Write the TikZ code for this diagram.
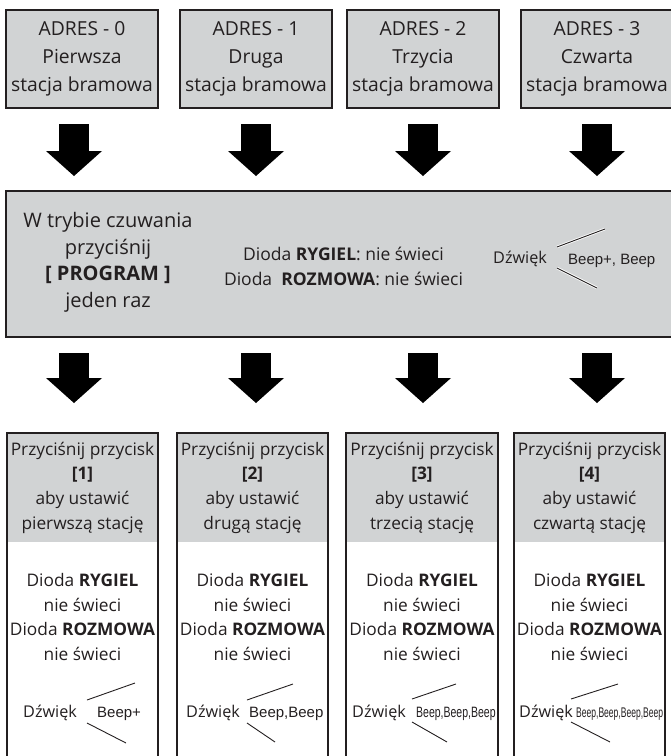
\documentclass[tikz,border=0pt]{standalone}
\usepackage{fontspec}
\setmainfont{Open Sans}
\newfontfamily\beepfont{Liberation Sans}
\usetikzlibrary{arrows.meta,positioning}

\definecolor{boxgray}{RGB}{209,211,212}
\definecolor{ink}{RGB}{35,31,32}

\tikzset{
  adres/.style={draw=ink, line width=1.5pt, fill=boxgray, minimum width=152pt,
    minimum height=98pt, inner sep=0pt, align=center, text=ink,
    font=\fontsize{19.3}{28}\selectfont},
  progbox/.style={draw=ink, line width=1.8pt, fill=boxgray, minimum width=690pt,
    minimum height=146pt, inner sep=0pt},
  head/.style={fill=boxgray, minimum width=151pt, minimum height=109pt, inner sep=0pt,
    align=center, text=ink, font=\fontsize{17.3}{24.7}\selectfont},
  body/.style={minimum width=151pt, minimum height=230pt, inner sep=0pt},
  frame/.style={draw=ink, line width=1.8pt},
  bodytxt/.style={align=center, inner sep=0pt, text=ink, font=\fontsize{17.3}{24.5}\selectfont},
  dzwtxt/.style={anchor=base west, inner sep=0pt, text=ink, font=\fontsize{16.2}{20}\selectfont},
  beeptxt/.style={anchor=base west, inner sep=0pt, text=ink, font=\beepfont\fontsize{15}{18}\selectfont},
  forkline/.style={draw=ink, line width=0.9pt},
  bigarrow/.style={draw=black, line width=30pt, -{Triangle[width=56pt,length=25pt,line width=0pt]}}
}

\begin{document}
\begin{tikzpicture}[x=1pt,y=-1pt]

\clip (0,0) rectangle (671,756);
\useasboundingbox (0,0) rectangle (671,756);

% adresy stacji
\node[adres] (ad0) at (82,59) {ADRES - 0\\Pierwsza\\stacja bramowa};
\node[adres] (ad1) at (256,59) {ADRES - 1\\Druga\\stacja bramowa};
\node[adres] (ad2) at (423,59) {ADRES - 2\\Trzycia\\stacja bramowa};
\node[adres] (ad3) at (597,59) {ADRES - 3\\Czwarta\\stacja bramowa};

\coordinate (s0) at (74,124);  \coordinate (e0) at (74,176);
\coordinate (s1) at (256,124); \coordinate (e1) at (256,176);
\coordinate (s2) at (423,124); \coordinate (e2) at (423,176);
\coordinate (s3) at (597,124); \coordinate (e3) at (597,176);
\draw[bigarrow] (s0) -- (e0);
\draw[bigarrow] (s1) -- (e1);
\draw[bigarrow] (s2) -- (e2);
\draw[bigarrow] (s3) -- (e3);

% tryb programowania
\node[progbox] (prog) at (351,264) {};

\node[align=center, inner sep=0pt, text=ink, font=\fontsize{20}{26.5}\selectfont] (tryb) at (108,262.5)
  {W trybie czuwania\\przyciśnij\\\textbf{[ PROGRAM ]}\\jeden raz};

\node[align=center, inner sep=0pt, text=ink, font=\fontsize{17.5}{25}\selectfont] (dioda) at (343.5,266)
  {Dioda \textbf{RYGIEL}: nie świeci\\Dioda\ \ \textbf{ROZMOWA}: nie świeci};

\node[dzwtxt] (dzw) at (493,263) {Dźwięk};
\node[beeptxt] (beep) at (568,264) {Beep+, Beep};
\draw[forkline, preaction={draw=white, line width=2.6pt}] (557,247) -- (605,229);
\draw[forkline, preaction={draw=white, line width=2.6pt}] (557,268) -- (597,288);

\coordinate (s4) at (74,353);  \coordinate (e4) at (74,403);
\coordinate (s5) at (256,353); \coordinate (e5) at (256,403);
\coordinate (s6) at (423,353); \coordinate (e6) at (423,403);
\coordinate (s7) at (597,353); \coordinate (e7) at (597,403);
\draw[bigarrow] (s4) -- (e4);
\draw[bigarrow] (s5) -- (e5);
\draw[bigarrow] (s6) -- (e6);
\draw[bigarrow] (s7) -- (e7);

% przyciski 1-4
\node[head] (head0) at (82.5,487.5) {Przyciśnij przycisk\\\textbf{[1]}\\aby ustawić\\pierwszą stację};
\node[head] (head1) at (252.5,487.5) {Przyciśnij przycisk\\\textbf{[2]}\\aby ustawić\\drugą stację};
\node[head] (head2) at (422,487.5) {Przyciśnij przycisk\\\textbf{[3]}\\aby ustawić\\trzecią stację};
\node[head] (head3) at (589.5,487.5) {Przyciśnij przycisk\\\textbf{[4]}\\aby ustawić\\czwartą stację};

\node[body, below=0pt of head0] (body0) {};
\node[body, below=0pt of head1] (body1) {};
\node[body, below=0pt of head2] (body2) {};
\node[body, below=0pt of head3] (body3) {};

\draw[frame] (head0.north west) rectangle (body0.south east);
\draw[frame] (head1.north west) rectangle (body1.south east);
\draw[frame] (head2.north west) rectangle (body2.south east);
\draw[frame] (head3.north west) rectangle (body3.south east);

\node[bodytxt] (bt0) at (82.5,617) {Dioda \textbf{RYGIEL}\\nie świeci\\Dioda \textbf{ROZMOWA}\\nie świeci};
\node[bodytxt] (bt1) at (252.5,617) {Dioda \textbf{RYGIEL}\\nie świeci\\Dioda \textbf{ROZMOWA}\\nie świeci};
\node[bodytxt] (bt2) at (422,617) {Dioda \textbf{RYGIEL}\\nie świeci\\Dioda \textbf{ROZMOWA}\\nie świeci};
\node[bodytxt] (bt3) at (589.5,617) {Dioda \textbf{RYGIEL}\\nie świeci\\Dioda \textbf{ROZMOWA}\\nie świeci};

% dzwieki
\node[dzwtxt] (dz0) at (23,717) {Dźwięk};
\node[beeptxt] (bp0) at (97,717) {Beep+};
\draw[forkline] (87,700) -- (135,683);
\draw[forkline] (87,723) -- (126,743);

\node[dzwtxt] (dz1) at (186,717) {Dźwięk};
\node[beeptxt] (bp1) at (249,717) {Beep,Beep};
\draw[forkline] (247,700) -- (293,684);
\draw[forkline] (247,723) -- (275,742);

\node[dzwtxt] (dz2) at (352,717) {Dźwięk};
\node[beeptxt] (bp2) at (416,717) {\scalebox{0.7}[1]{Beep,Beep,Beep}};
\draw[forkline] (412,699) -- (456,684);
\draw[forkline] (412,722) -- (447,742);

\node[dzwtxt] (dz3) at (519,717) {Dźwięk};
\node[beeptxt, font=\beepfont\fontsize{14}{17}\selectfont] (bp3) at (576,717) {\scalebox{0.61}[1]{Beep,Beep,Beep,Beep}};
\draw[forkline] (571,699) -- (618,684);
\draw[forkline] (571,722) -- (610,742);

\end{tikzpicture}
\end{document}
